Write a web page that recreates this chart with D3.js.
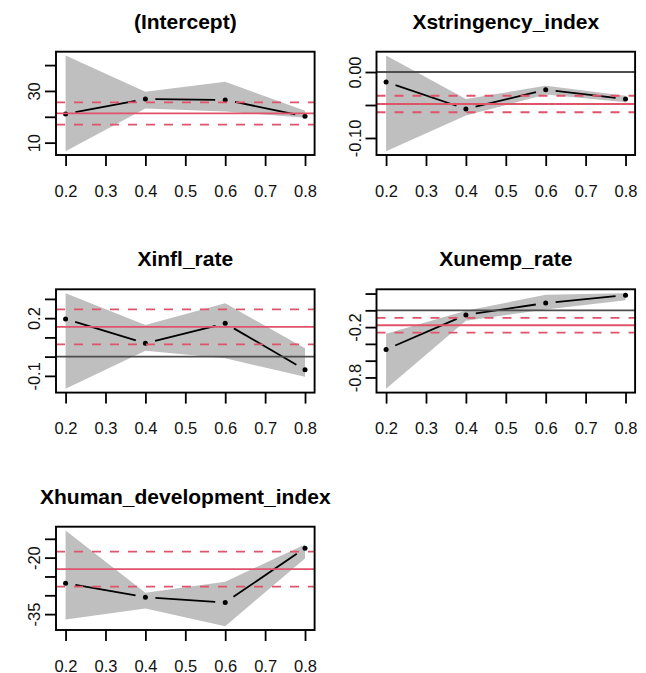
<!DOCTYPE html>
<html><head><meta charset="utf-8">
<script src="https://cdn.jsdelivr.net/npm/d3@7"></script>
<style>body{margin:0;background:#fff}svg{display:block}</style>
</head><body>
<svg id="chart" width="646" height="673"></svg>
<script>
// ---- data ----
const taus = [0.2, 0.4, 0.6, 0.8];
const xTicks = [0.2, 0.3, 0.4, 0.5, 0.6, 0.7, 0.8];
const xTickLabels = ["0.2", "0.3", "0.4", "0.5", "0.6", "0.7", "0.8"];
const panelTitles = ["(Intercept)", "Xstringency_index", "Xinfl_rate", "Xunemp_rate", "Xhuman_development_index"];
const coefEstimate = [
  [21.1, 26.9, 26.5, 20.2],
  [-0.015, -0.056, -0.027, -0.041],
  [0.196, 0.069, 0.173, -0.068],
  [-0.466, -0.055, 0.087, 0.18],
  [-26.8, -30.5, -31.9, -17.5]
];
const coefLower = [
  [6.7, 23.2, 22.0, 19.6],
  [-0.120, -0.066, -0.034, -0.046],
  [-0.167, 0.031, -0.009, -0.104],
  [-0.935, -0.125, 0.01, 0.12],
  [-36.4, -33.5, -38.2, -20.2]
];
const coefUpper = [
  [43.7, 29.7, 33.6, 22.3],
  [0.025, -0.041, -0.021, -0.036],
  [0.330, 0.165, 0.277, 0.043],
  [-0.28, -0.005, 0.185, 0.205],
  [-12.8, -29.3, -26.4, -16.5]
];
const olsEstimate = [21.3, -0.0485, 0.155, -0.178, -23.05];
const olsHalfWidth = [4.3, 0.0125, 0.091, 0.088, 4.65];
const yTickValues = [
  [10, 20, 30, 40],
  [-0.10, -0.05, 0.00],
  [-0.1, 0.0, 0.1, 0.2, 0.3],
  [-0.8, -0.6, -0.4, -0.2, 0.0, 0.2],
  [-35, -30, -25, -20, -15]
];
const yTickLabels = [
  ["10", "", "30", ""],
  ["-0.10", "", "0.00"],
  ["-0.1", "", "", "0.2", ""],
  ["-0.8", "", "", "-0.2", "", ""],
  ["-35", "", "", "-20", ""]
];

// ---- layout ----
const colLeft = [56, 376.5];
const rowTop = [51.7, 289.3, 526.7];
const boxW = 258.6, boxH = 103.3;
const FONT = "'Liberation Sans', Arial, Helvetica, sans-serif";
const RED = "#DF536B";
const LW = 1.8;

const svg = d3.select("#chart");
svg.append("rect").attr("width", 646).attr("height", 673).attr("fill", "#fff");

function extend(lo, hi) { const r = hi - lo; return [lo - 0.04 * r, hi + 0.04 * r]; }

panelTitles.forEach((title, i) => {
  const left = colLeft[i % 2], top = rowTop[Math.floor(i / 2)];
  const g = svg.append("g").attr("transform", `translate(${left},${top})`);
  const x = d3.scaleLinear().domain(extend(d3.min(taus), d3.max(taus))).range([0, boxW]);
  const yDom = extend(d3.min(coefLower[i]), d3.max(coefUpper[i]));
  const y = d3.scaleLinear().domain(yDom).range([boxH, 0]);

  const clipId = "clip" + i;
  g.append("clipPath").attr("id", clipId).append("rect").attr("width", boxW).attr("height", boxH);
  const plot = g.append("g").attr("clip-path", `url(#${clipId})`);

  // confidence band polygon
  const poly = taus.map((t, k) => [x(t), y(coefUpper[i][k])])
    .concat(taus.map((t, k) => [x(t), y(coefLower[i][k])]).reverse());
  plot.append("path").attr("d", "M" + poly.map(p => p.join(",")).join("L") + "Z")
    .attr("fill", "#BFBFBF").attr("stroke", "none");

  // type = "b" line segments with gaps around points
  const pts = taus.map((t, k) => [x(t), y(coefEstimate[i][k])]);
  const gap = 10;
  for (let k = 0; k < pts.length - 1; k++) {
    const [x0, y0] = pts[k], [x1, y1] = pts[k + 1];
    const len = Math.hypot(x1 - x0, y1 - y0);
    if (len <= 2 * gap) continue;
    const ux = (x1 - x0) / len, uy = (y1 - y0) / len;
    plot.append("line")
      .attr("x1", x0 + ux * gap).attr("y1", y0 + uy * gap)
      .attr("x2", x1 - ux * gap).attr("y2", y1 - uy * gap)
      .attr("stroke", "#000").attr("stroke-width", LW);
  }
  plot.selectAll("circle.pt").data(pts).join("circle").attr("class", "pt")
    .attr("cx", d => d[0]).attr("cy", d => d[1]).attr("r", 2.5).attr("fill", "#000");

  // OLS lines
  const ols = olsEstimate[i], hw = olsHalfWidth[i];
  plot.append("line").attr("x1", 0).attr("x2", boxW).attr("y1", y(ols)).attr("y2", y(ols))
    .attr("stroke", RED).attr("stroke-width", LW);
  [ols - hw, ols + hw].forEach(v => {
    plot.append("line").attr("x1", 0).attr("x2", boxW).attr("y1", y(v)).attr("y2", y(v))
      .attr("stroke", RED).attr("stroke-width", LW).attr("stroke-dasharray", "9,9");
  });

  // zero line
  if (yDom[0] < 0 && yDom[1] > 0) {
    plot.append("line").attr("x1", 0).attr("x2", boxW).attr("y1", y(0)).attr("y2", y(0))
      .attr("stroke", "#4D4D4D").attr("stroke-width", LW);
  }

  // box
  g.append("rect").attr("width", boxW).attr("height", boxH)
    .attr("fill", "none").attr("stroke", "#000").attr("stroke-width", 1.9);

  // x axis
  const xAxis = d3.axisBottom(x).tickValues(xTicks).tickSize(11).tickSizeOuter(0)
    .tickFormat((d, k) => xTickLabels[k]);
  const gx = g.append("g").attr("transform", `translate(0,${boxH})`).call(xAxis);
  gx.select(".domain").remove();
  gx.selectAll(".tick line").attr("stroke", "#000").attr("stroke-width", LW);
  gx.selectAll(".tick text").attr("y", 41.5).attr("dy", 0)
    .attr("font-family", FONT).attr("font-size", 16.5).attr("fill", "#111");

  // y axis
  const yAxis = d3.axisLeft(y).tickValues(yTickValues[i]).tickSize(11).tickSizeOuter(0)
    .tickFormat((d, k) => yTickLabels[i][k]);
  const gy = g.append("g").call(yAxis);
  gy.select(".domain").remove();
  gy.selectAll(".tick line").attr("stroke", "#000").attr("stroke-width", LW);
  gy.selectAll(".tick text").attr("x", 0).attr("y", 0).attr("dy", 0)
    .attr("transform", "translate(-16,0) rotate(-90)").attr("text-anchor", "middle")
    .attr("font-family", FONT).attr("font-size", 16.5).attr("fill", "#111");

  // title
  g.append("text").attr("x", boxW / 2).attr("y", -23).attr("text-anchor", "middle")
    .attr("font-family", FONT).attr("font-weight", "bold").attr("font-size", 21)
    .attr("fill", "#000").text(title);
});
</script>
</body></html>
